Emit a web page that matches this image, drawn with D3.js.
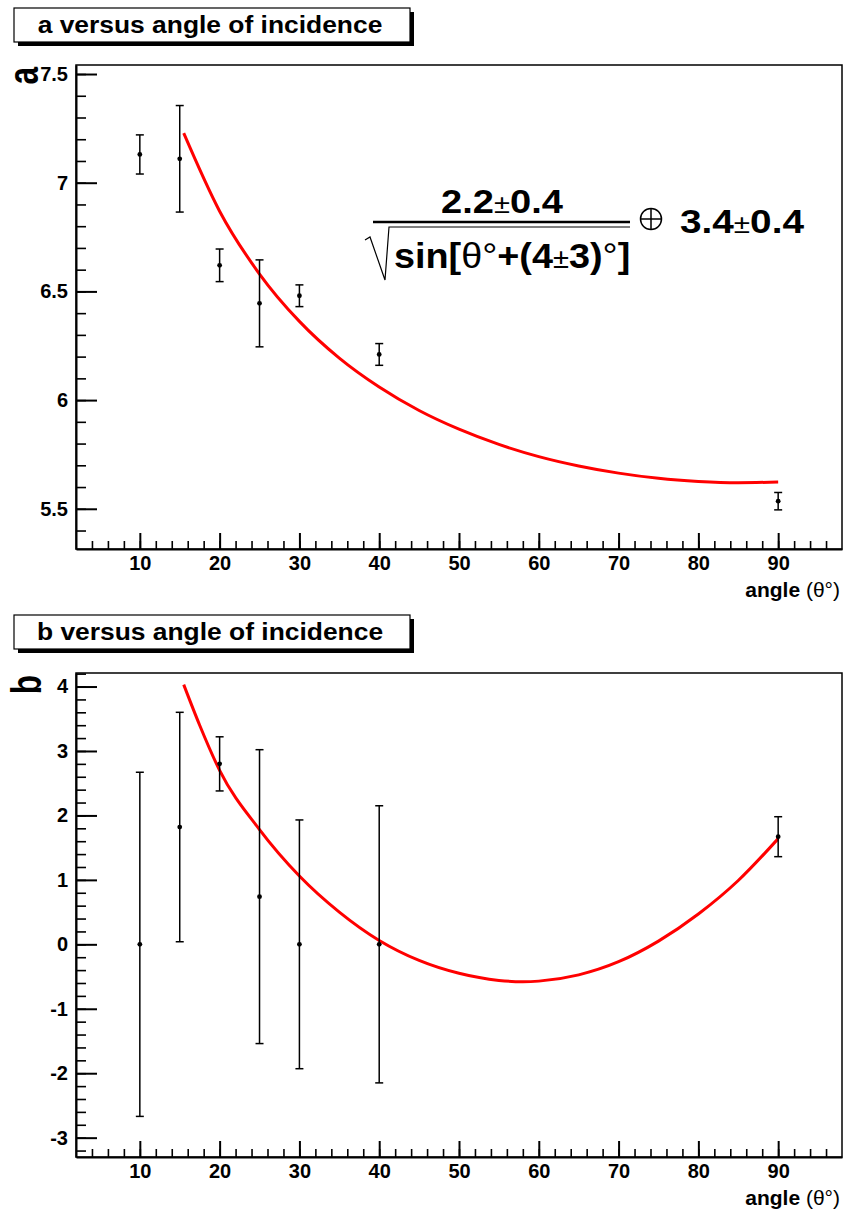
<!DOCTYPE html>
<html>
<head>
<meta charset="utf-8">
<script src="https://cdn.jsdelivr.net/npm/d3@7"></script>
<style>
body { margin: 0; background: #fff; }
svg { font-family: "Liberation Sans", Arial, Helvetica, sans-serif; }
</style>
</head>
<body>
<div id="chart"></div>
<script>
// measured points, angle of incidence in degrees
var angles = [10, 15, 20, 25, 30, 40, 90];
var aValues = [7.13, 7.11, 6.62, 6.445, 6.48, 6.21, 5.535];
var aErrors = [0.09, 0.245, 0.075, 0.20, 0.05, 0.05, 0.04];
var bValues = [0, 1.82, 2.80, 0.74, 0, 0, 1.67];
var bErrors = [2.67, 1.78, 0.42, 2.28, 1.93, 2.15, 0.31];

// fitted curves
var aFitAngles = [15.5, 20, 25, 30, 35, 40, 45, 50, 55, 60, 65, 70, 75, 80, 85, 90];
var aFitValues = [7.228, 6.869, 6.580, 6.362, 6.193, 6.060, 5.952, 5.866, 5.796, 5.740, 5.697, 5.664, 5.640, 5.626, 5.620, 5.623];
var bFitAngles = [15.5, 17.5, 20, 25, 30, 35, 40, 45, 50, 55, 58, 60, 65, 70, 75, 80, 85, 90];
var bFitValues = [4.03, 3.40, 2.70, 1.78, 1.06, 0.50, 0.06, -0.25, -0.45, -0.56, -0.58, -0.571, -0.474, -0.27, 0.05, 0.47, 0.99, 1.64];

// ticks
var xTicks = [10, 20, 30, 40, 50, 60, 70, 80, 90];
var aTicks = [5.5, 6, 6.5, 7, 7.5];
var bTicks = [-3, -2, -1, 0, 1, 2, 3, 4];

var W = 845, H = 1209;
var left = 76, right = 842;

var svg = d3.select("#chart").append("svg")
    .attr("width", W)
    .attr("height", H);

var x = d3.scaleLinear().domain([2, 98]).range([left, right]);

function panel(cfg) {
  var y = d3.scaleLinear().domain(cfg.yDomain).range([cfg.bottom, cfg.top]);
  var g = svg.append("g");

  // title box with shadow
  g.append("rect")
    .attr("x", 18).attr("y", cfg.boxTop + 4)
    .attr("width", 396).attr("height", 34)
    .attr("fill", "#000");
  g.append("rect")
    .attr("x", 14).attr("y", cfg.boxTop)
    .attr("width", 396).attr("height", 34)
    .attr("fill", "#fff").attr("stroke", "#000").attr("stroke-width", 1.2);
  g.append("text")
    .attr("transform", "translate(210," + (cfg.boxTop + 25) + ") scale(1.1,1)")
    .attr("text-anchor", "middle")
    .attr("font-size", 24).attr("font-weight", "bold")
    .text(cfg.title);

  // frame
  g.append("rect")
    .attr("x", left).attr("y", cfg.top)
    .attr("width", right - left).attr("height", cfg.bottom - cfg.top)
    .attr("fill", "none").attr("stroke", "#000").attr("stroke-width", 1.5);

  // minor ticks
  g.append("g")
    .attr("transform", "translate(" + left + ",0)")
    .call(d3.axisLeft(y).tickValues(cfg.yMinor).tickSize(-10).tickSizeOuter(0).tickFormat(""))
    .call(function(s){ s.select(".domain").remove(); s.selectAll("line").attr("stroke-width", 1.6); });
  g.append("g")
    .attr("transform", "translate(0," + cfg.bottom + ")")
    .call(d3.axisBottom(x).tickValues(d3.range(4, 98, 2)).tickSize(-8).tickSizeOuter(0).tickFormat(""))
    .call(function(s){ s.select(".domain").remove(); s.selectAll("line").attr("stroke-width", 1.6); });

  // major ticks + labels
  g.append("g")
    .attr("transform", "translate(" + left + ",0)")
    .call(d3.axisLeft(y).tickValues(cfg.yTicks).tickSize(-21).tickSizeOuter(0).tickPadding(8)
      .tickFormat(function(d){ return String(d); }))
    .call(function(s){
      s.select(".domain").attr("stroke-width", 2);
      s.selectAll("line").attr("stroke-width", 2);
      s.attr("font-family", null).attr("font-size", 20).attr("font-weight", "bold");
    });
  g.append("g")
    .attr("transform", "translate(0," + cfg.bottom + ")")
    .call(d3.axisBottom(x).tickValues(xTicks).tickSize(-16).tickSizeOuter(0).tickPadding(7))
    .call(function(s){
      s.select(".domain").attr("stroke-width", 2);
      s.selectAll("line").attr("stroke-width", 2);
      s.attr("font-family", null).attr("font-size", 20).attr("font-weight", "bold");
    });

  // axis titles
  g.append("text")
    .attr("transform", "translate(" + cfg.yTitleX + "," + (cfg.top + 2) + ") rotate(-90) scale(0.75,1)")
    .attr("text-anchor", "end")
    .attr("font-size", 42).attr("font-weight", "bold")
    .text(cfg.yTitle);
  var xt = g.append("text")
    .attr("x", 840).attr("y", cfg.bottom + 48)
    .attr("text-anchor", "end")
    .attr("font-size", 21);
  xt.append("tspan").attr("font-weight", "bold").text("angle ");
  xt.append("tspan").text("(\u03b8\u00b0)");

  // fit curve
  var fit = cfg.fitX.map(function(d, i){ return [d, cfg.fitY[i]]; });
  g.append("path")
    .datum(fit)
    .attr("fill", "none")
    .attr("stroke", "#ff0000")
    .attr("stroke-width", 3)
    .attr("d", d3.line()
      .x(function(d){ return x(d[0]); })
      .y(function(d){ return y(d[1]); })
      .curve(d3.curveMonotoneX));

  // error bars
  var pts = angles.map(function(d, i){ return {x: d, v: cfg.values[i], e: cfg.errors[i]}; });
  var eb = g.selectAll(".err").data(pts).enter().append("g").attr("class", "err");
  eb.append("line")
    .attr("x1", function(d){ return x(d.x); })
    .attr("x2", function(d){ return x(d.x); })
    .attr("y1", function(d){ return y(d.v - d.e); })
    .attr("y2", function(d){ return y(d.v + d.e); })
    .attr("stroke", "#000").attr("stroke-width", 1.5);
  [-1, 1].forEach(function(sgn){
    eb.append("line")
      .attr("x1", function(d){ return x(d.x) - 4; })
      .attr("x2", function(d){ return x(d.x) + 4; })
      .attr("y1", function(d){ return y(d.v + sgn * d.e); })
      .attr("y2", function(d){ return y(d.v + sgn * d.e); })
      .attr("stroke", "#000").attr("stroke-width", 1.5);
  });
  eb.append("circle")
    .attr("cx", function(d){ return x(d.x); })
    .attr("cy", function(d){ return y(d.v); })
    .attr("r", 2.4)
    .attr("fill", "#000");

  return g;
}

panel({
  title: "a versus angle of incidence",
  boxTop: 8, top: 65, bottom: 549,
  yDomain: [5.315, 7.5415],
  yTicks: aTicks,
  yMinor: d3.range(5.4, 7.55, 0.1),
  yTitle: "a", yTitleX: 38,
  values: aValues, errors: aErrors,
  fitX: aFitAngles, fitY: aFitValues
});

panel({
  title: "b versus angle of incidence",
  boxTop: 615, top: 673, bottom: 1157,
  yDomain: [-3.30, 4.21],
  yTicks: bTicks,
  yMinor: d3.range(-3.2, 4.25, 0.2),
  yTitle: "b", yTitleX: 41,
  values: bValues, errors: bErrors,
  fitX: bFitAngles, fitY: bFitValues
});

// fit formula on the top panel
var f = svg.append("g");
var num = f.append("text")
  .attr("transform", "translate(502,213) scale(1.12,1)")
  .attr("text-anchor", "middle")
  .attr("font-size", 34).attr("font-weight", "bold");
num.append("tspan").text("2.2");
num.append("tspan").attr("font-weight", "normal").attr("font-size", 26).text("\u00b1");
num.append("tspan").text("0.4");

f.append("line").attr("x1", 373).attr("x2", 630).attr("y1", 222).attr("y2", 222)
  .attr("stroke", "#000").attr("stroke-width", 2.5);
f.append("path")
  .attr("d", "M365,240 L370,237 L385,280 L389,227 L630,227")
  .attr("fill", "none").attr("stroke", "#000").attr("stroke-width", 1.2);

var den = f.append("text")
  .attr("transform", "translate(394,268) scale(1.08,1)")
  .attr("font-size", 35).attr("font-weight", "bold");
den.append("tspan").text("sin[");
den.append("tspan").attr("font-weight", "normal").text("\u03b8\u00b0");
den.append("tspan").text("+(4");
den.append("tspan").attr("font-weight", "normal").attr("font-size", 27).text("\u00b1");
den.append("tspan").text("3)");
den.append("tspan").attr("font-weight", "normal").text("\u00b0");
den.append("tspan").text("]");

f.append("circle").attr("cx", 651).attr("cy", 219).attr("r", 10.5)
  .attr("fill", "none").attr("stroke", "#000").attr("stroke-width", 1.5);
f.append("path").attr("d", "M640.5,219 L661.5,219 M651,208.5 L651,229.5")
  .attr("stroke", "#000").attr("stroke-width", 1.5);

var rest = f.append("text")
  .attr("transform", "translate(680,233) scale(1.14,1)")
  .attr("font-size", 34).attr("font-weight", "bold");
rest.append("tspan").text("3.4");
rest.append("tspan").attr("font-weight", "normal").attr("font-size", 26).text("\u00b1");
rest.append("tspan").text("0.4");
</script>
</body>
</html>
